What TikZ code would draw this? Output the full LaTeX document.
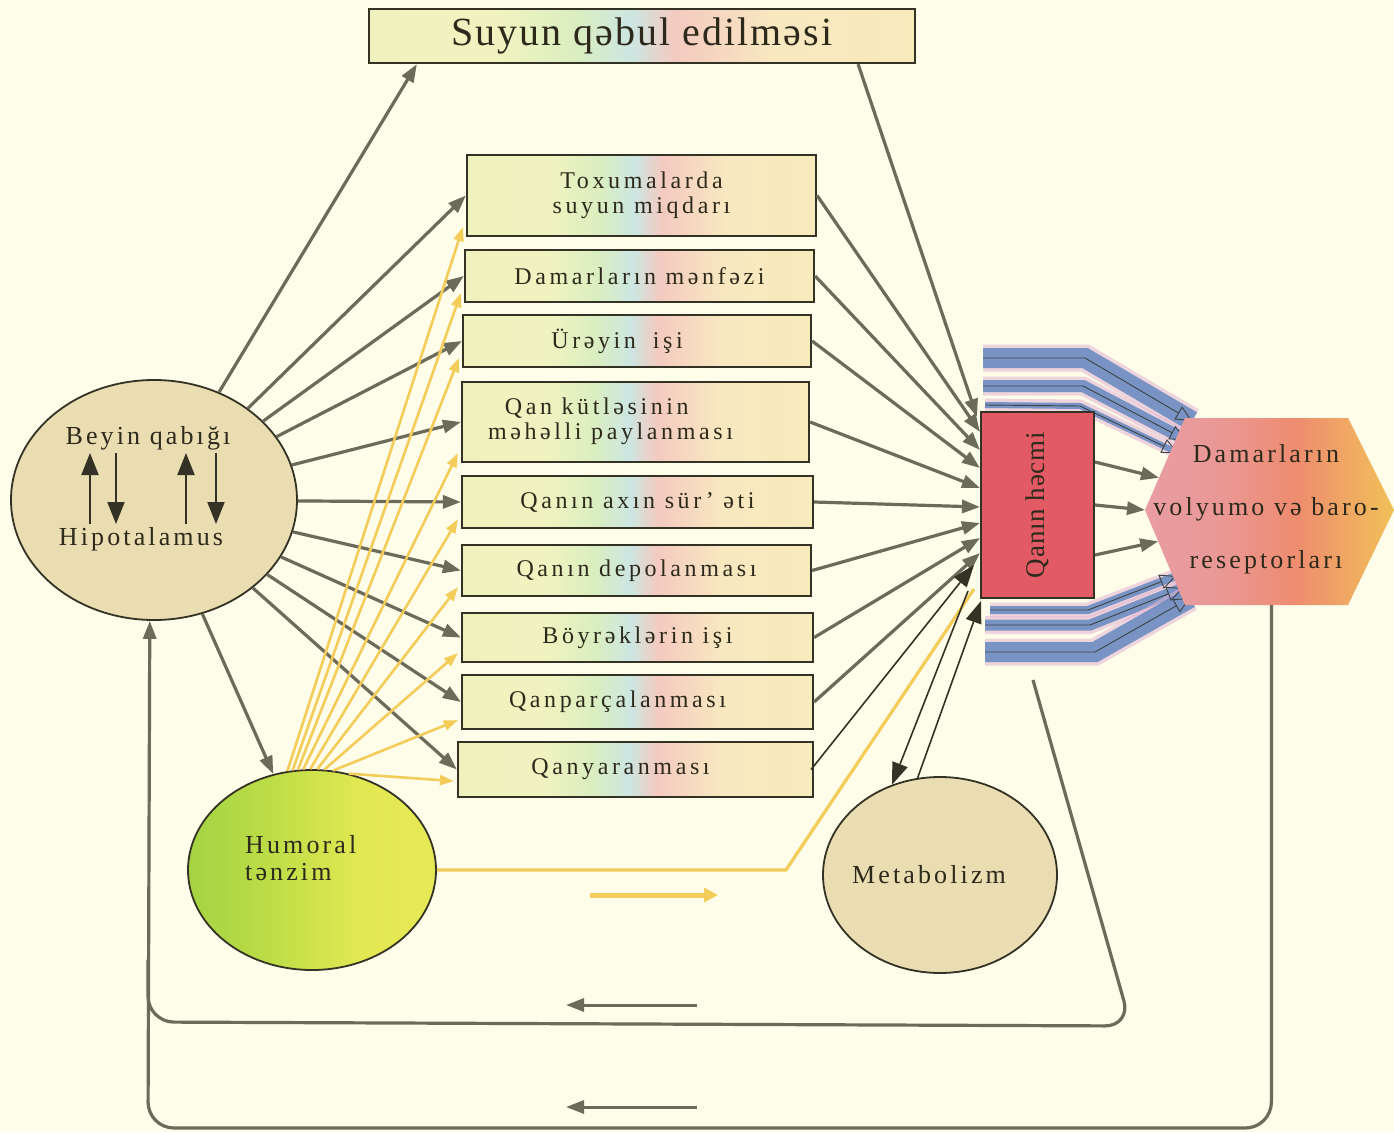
\documentclass[tikz,border=0pt]{standalone}
\usepackage{fontspec}
\setmainfont{Liberation Serif}
\newfontfamily\spcA[LetterSpace=15]{Liberation Serif}
\newfontfamily\spcB[LetterSpace=12]{Liberation Serif}
\newfontfamily\spcT[LetterSpace=5]{Liberation Serif}
\newfontfamily\spcQ[LetterSpace=3]{Liberation Serif}
\usetikzlibrary{arrows.meta,shapes.geometric,calc}

\definecolor{bgc}{RGB}{253,253,233}
\definecolor{bord}{RGB}{52,50,36}
\definecolor{txt}{RGB}{45,42,28}
\definecolor{gry}{RGB}{108,106,90}
\definecolor{ylw}{RGB}{243,204,90}
\definecolor{beig}{RGB}{233,221,177}
\definecolor{qred}{RGB}{225,90,100}
\definecolor{bandb}{RGB}{92,132,190}
\definecolor{bandp}{RGB}{226,180,210}
\definecolor{bxa}{RGB}{238,241,182}
\definecolor{bxb}{RGB}{240,243,192}
\definecolor{bxg}{RGB}{218,238,192}
\definecolor{bxc}{RGB}{204,230,226}
\definecolor{bxp}{RGB}{244,202,192}
\definecolor{bxd}{RGB}{248,232,192}
\definecolor{bxe}{RGB}{246,238,178}
\definecolor{hxa}{RGB}{230,166,180}
\definecolor{hxb}{RGB}{234,152,150}
\definecolor{hxc}{RGB}{238,140,112}
\definecolor{hxd}{RGB}{242,200,84}
\definecolor{hxe}{RGB}{244,232,82}
\definecolor{hma}{RGB}{128,194,62}
\definecolor{hmb}{RGB}{186,220,70}
\definecolor{hmc}{RGB}{226,232,82}
\definecolor{hmd}{RGB}{236,236,90}

\pgfdeclarehorizontalshading{boxsh}{100bp}{color(0bp)=(bxa); color(37bp)=(bxb); color(44bp)=(bxg); color(49bp)=(bxc); color(53bp)=(bxp); color(62bp)=(bxd); color(100bp)=(bxe)}
\pgfdeclarehorizontalshading{hexsh}{100bp}{color(0bp)=(hxa); color(40bp)=(hxb); color(55bp)=(hxc); color(78bp)=(hxd); color(100bp)=(hxe)}
\pgfdeclarehorizontalshading{humsh}{100bp}{color(0bp)=(hma); color(40bp)=(hmb); color(60bp)=(hmc); color(100bp)=(hmd)}

\pgfdeclarelayer{bglayer}
\pgfsetlayers{bglayer,main}

\begin{document}
\begin{tikzpicture}[x=1pt,y=-1pt,
  box/.style={draw=bord, line width=2.2pt, shading=boxsh, inner sep=0pt, align=center, text=txt, font={\spcA\fontsize{24}{25}\selectfont}},
  ga/.style={draw=gry, line width=3.2pt, -{Triangle[length=18pt,width=13pt]}},
  gl/.style={draw=gry, line width=3.2pt},
  ya/.style={draw=ylw, line width=2.6pt, -{Triangle[length=14pt,width=10pt]}},
  ba/.style={draw=bord, line width=1.6pt, -{Triangle[length=22pt,width=16pt]}},
  bi/.style={draw=bord, line width=2pt, -{Triangle[length=22pt,width=17pt]}},
  lbl/.style={text=txt, inner sep=3pt, font={\spcB\fontsize{26}{27}\selectfont}},
  bandout/.style={draw=bandp, opacity=.55, line cap=butt, line join=miter},
  bandin/.style={draw=bandb, opacity=.8, line cap=butt, line join=miter},
  bandln/.style={draw=bord!80!bandb, line width=0.9pt, -{Triangle[open,length=16pt,width=15pt]}},
]
\useasboundingbox (0,0) rectangle (1394,1132);

% ---------- nodes ----------
\node[box, minimum width=546pt, minimum height=54pt, font={\spcT\fontsize{40}{42}\selectfont}] (top) at (642,36) {Suyun qəbul edilməsi};

\node[box, minimum width=349pt, minimum height=81pt] (tox) at (641.5,195.5) {Toxumalarda\\suyun miqdarı};
\node[box, minimum width=349pt, minimum height=52pt] (dam) at (639.5,276) {Damarların mənfəzi};
\node[box, minimum width=348pt, minimum height=52pt] (ure) at (637,341) {\hspace*{-40pt}Ürəyin\hspace{0.7em}işi};
\node[box, minimum width=347pt, minimum height=80pt] (qan) at (635.5,422) {\hspace*{-50pt}\begin{tabular}{@{}l@{}}\hspace{0.7em}Qan kütləsinin\\məhəlli paylanması\end{tabular}};
\node[box, minimum width=351pt, minimum height=52pt] (axin) at (637.5,502) {Qanın axın sür’ əti};
\node[box, minimum width=349pt, minimum height=51pt] (dep) at (636.5,570.5) {Qanın depolanması};
\node[box, minimum width=351pt, minimum height=49pt] (boy) at (637.5,637.5) {Böyrəklərin işi};
\node[box, minimum width=351pt, minimum height=54pt] (qpar) at (637.5,702) {\hspace*{-40pt}Qanparçalanması};
\node[box, minimum width=355pt, minimum height=55pt] (qyar) at (635.5,769.5) {\hspace*{-30pt}Qanyaranması};

\node[ellipse, draw=bord, line width=1.8pt, fill=beig, minimum width=286pt, minimum height=240pt, inner sep=0pt] (bey) at (154,500) {};
\node[lbl] (bq) at (148,438) {Beyin qabığı};
\node[lbl] (hp) at (141,539) {Hipotalamus};

\node[ellipse, draw=bord, line width=1.8pt, shading=humsh, minimum width=248pt, minimum height=200pt, inner sep=0pt] (hum) at (312,870) {};
\node[lbl, anchor=west, align=left] (humt) at (242,858) {Humoral\\tənzim};

\node[ellipse, draw=bord, line width=1.8pt, fill=beig, minimum width=234pt, minimum height=196pt, inner sep=0pt, text=txt, font={\spcB\fontsize{26}{27}\selectfont}] (met) at (940,875) {\hspace*{-22pt}Metabolizm};

\node[draw=bord, line width=2pt, fill=qred, minimum width=113pt, minimum height=186pt, inner sep=0pt, text=txt] (qh) at (1037.5,505) {\rotatebox{90}{\spcQ\fontsize{27}{28}\selectfont Qanın həcmi}};

% hexagon
\coordinate (hL) at (1145,510);
\coordinate (hTL) at (1185,418);
\coordinate (hTR) at (1348,418);
\coordinate (hR) at (1394,510);
\coordinate (hBR) at (1348,605);
\coordinate (hBL) at (1185,605);

% band coordinates
\coordinate (bA0) at (983,358); \coordinate (bA1) at (1085,358); \coordinate (bA2) at (1192,421);
\coordinate (bB0) at (983,386); \coordinate (bB1) at (1083,386); \coordinate (bB2) at (1186,440);
\coordinate (bC0) at (985,405); \coordinate (bC1) at (1080,406); \coordinate (bC2) at (1178,453);
\coordinate (bD0) at (990,610); \coordinate (bD1) at (1088,610); \coordinate (bD2) at (1176,576);
\coordinate (bE0) at (985,625); \coordinate (bE1) at (1090,625); \coordinate (bE2) at (1183,588);
\coordinate (bF0) at (985,652); \coordinate (bF1) at (1095,652); \coordinate (bF2) at (1190,598);

\begin{pgfonlayer}{bglayer}
\fill[bgc] (0,0) rectangle (1394,1132);
\foreach \b/\w in {A/20,B/12,C/6,D/8,E/11,F/20}{
  \draw[bandout, line width=\w pt+7pt] (b\b0) -- (b\b1) -- (b\b2);
  \draw[bandin, line width=\w pt] (b\b0) -- (b\b1) -- (b\b2);
}
\end{pgfonlayer}
\foreach \b in {A,B,C,D,E,F}{
  \draw[bandln] (b\b0) -- (b\b1) -- (b\b2);
}

\path[shading=hexsh] (hL) -- (hTL) -- (hTR) -- (hR) -- (hBR) -- (hBL) -- cycle;
\node[text=txt, align=center, inner sep=0pt, font={\spcB\fontsize{26}{53}\selectfont}] (hx) at (1266,509) {Damarların\\volyumo və baro-\\reseptorları};

% ---------- connectors ----------
% return loops
\coordinate (il) at (1033,680);
\draw[gl, rounded corners=26pt] (il) -- (1131,1026) -- (148,1022) -- (148,960);
\draw[ga, rounded corners=26pt] ($(hBL)!0.53!(hBR)$) -- ++(0,523) -- (148,1128) -- (bey.268);
\coordinate (la1s) at (697,1005); \coordinate (la1e) at (566,1005);
\coordinate (la2s) at (697,1107); \coordinate (la2e) at (566,1107);
\draw[ga, line width=3pt] (la1s) -- (la1e);
\draw[ga, line width=3pt] (la2s) -- (la2e);

% beyin to boxes
\draw[ga] (bey) -- ([xshift=49pt]top.south west);
\foreach \b in {tox,dam,ure,qan,axin,dep,boy,qpar,qyar}{
  \draw[ga] (bey) -- (\b.west);
}
\draw[ga] (bey.-67) -- (hum.112);

% boxes to Qanin hecmi
\draw[ga] ([xshift=-58pt]top.south east) -- ([xshift=-3pt,yshift=88pt]qh.west);
\foreach \b/\dy in {tox/73,dam/55,ure/37,qan/17,axin/-2,dep/-18,boy/-33,qpar/-48}{
  \draw[ga] (\b.east) -- ([yshift=\dy pt]qh.west);
}

% qh to hexagon
\draw[ga] ([yshift=43pt]qh.east) -- ($(hL)!0.35!(hTL)$);
\draw[ga] (qh.east) -- (hL);
\draw[ga] ([yshift=-50pt]qh.east) -- ($(hL)!0.33!(hBL)$);

% yellow humoral arrows
\foreach \b/\a/\dy in {tox/104/10,dam/101/10,ure/98/10,qan/95/10,axin/91/10,dep/87/10,boy/83/10,qpar/78/10,qyar/69/17}{
  \draw[ya] (hum.\a) -- ([xshift=-3pt,yshift=\dy pt]\b.south west);
}
\draw[draw=ylw, line width=3.2pt] (hum.east) -- ++(349,0) -- ([xshift=-6pt,yshift=10pt]qh.south west);
\coordinate (ya1) at (590,895); \coordinate (ya2) at (718,895);
\draw[draw=ylw, line width=5pt, -{Triangle[length=14pt,width=14pt]}] (ya1) -- (ya2);

% black arrows
\draw[ba] ([xshift=-3pt]qyar.east) -- ([xshift=-6pt,yshift=-60pt]qh.west);
\draw[ba] ([xshift=-12pt,yshift=8pt]qh.south west) -- (met.118);
\draw[ba] (met.103) -- ([xshift=1pt,yshift=-2pt]qh.south west);

% beyin inner arrows
\draw[bi] (90,0 |- hp.north) -- (90,0 |- bq.south);
\draw[bi] (116,0 |- bq.south) -- (116,0 |- hp.north);
\draw[bi] (186,0 |- hp.north) -- (186,0 |- bq.south);
\draw[bi] (216,0 |- bq.south) -- (216,0 |- hp.north);
\end{tikzpicture}
\end{document}
